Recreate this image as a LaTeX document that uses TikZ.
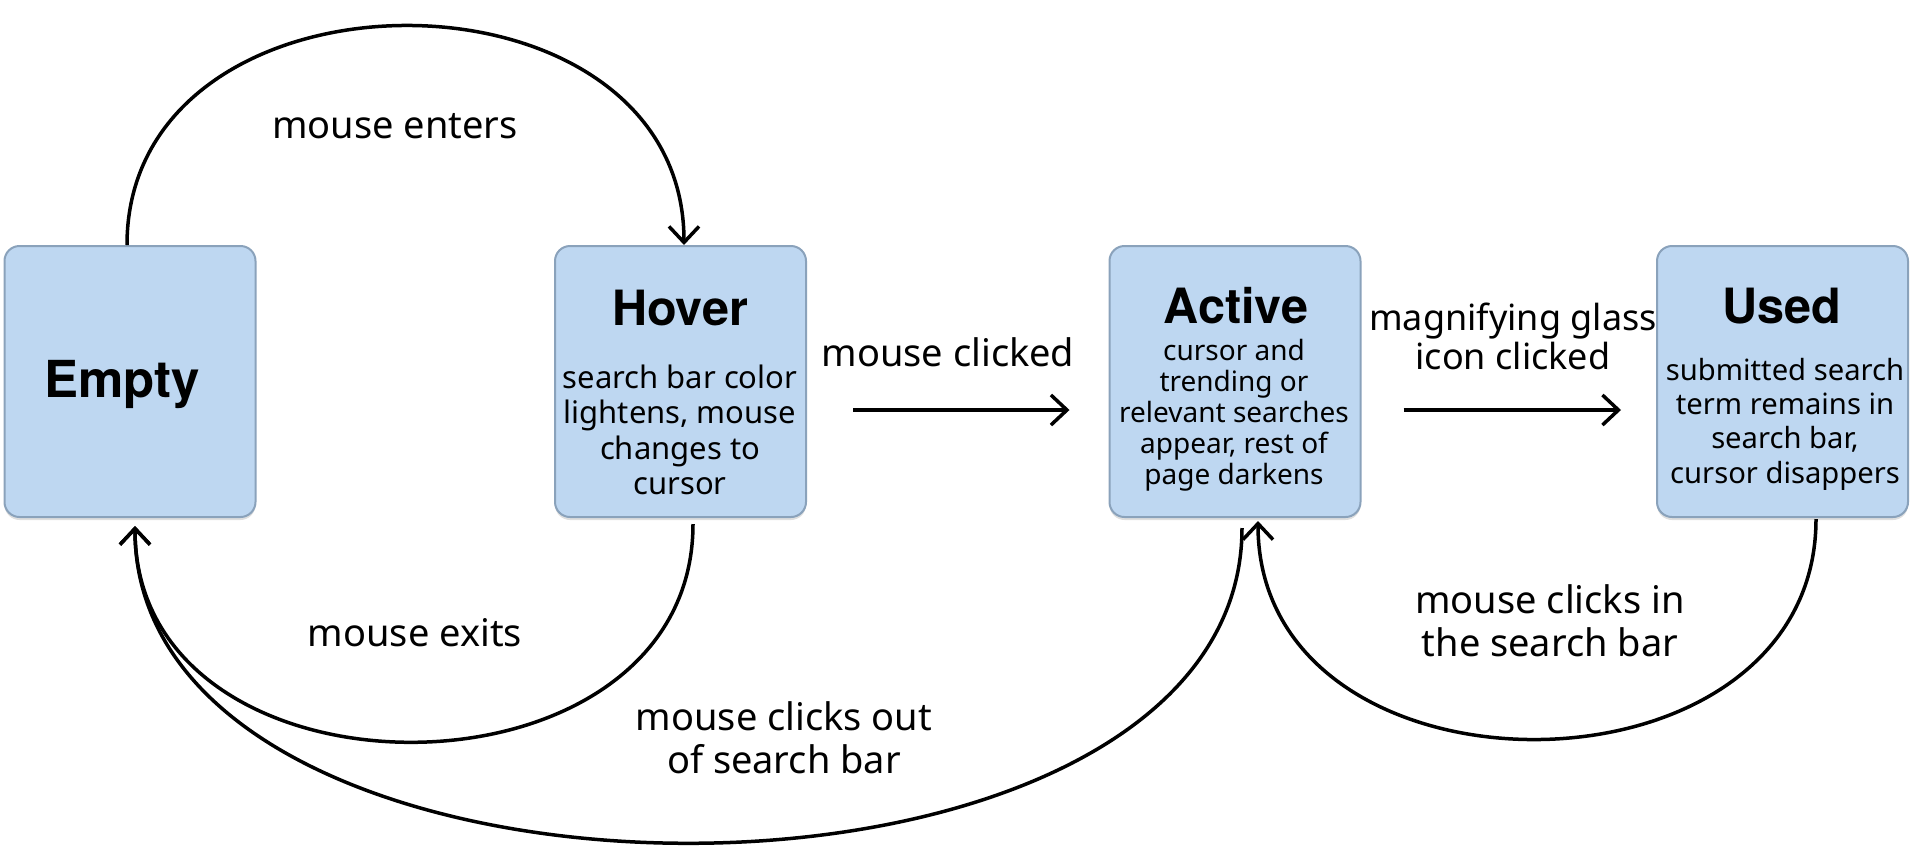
\documentclass[tikz,border=0pt]{standalone}
\usepackage{fontspec}
\setmainfont{Noto Sans}
\newfontfamily\titlefont{TeX Gyre Heros}
\usepackage{xcolor}
\usepackage{tikz}
\usetikzlibrary{calc,arrows.meta,shadows}
\definecolor{boxfill}{HTML}{BED7F1}
\definecolor{boxline}{HTML}{8AA2BB}
\definecolor{ink}{HTML}{000000}
\tikzset{
  sbox/.style={draw=boxline, line width=1pt, fill=boxfill, rounded corners=7.5pt,
    minimum width=125.5pt, minimum height=135.5pt, inner sep=0pt,
    drop shadow={opacity=0.25, shadow xshift=0pt, shadow yshift=-1.5pt}},
  title/.style={text=ink, anchor=base, font=\titlefont\bfseries\fontsize{24.3}{28}\selectfont},
  desc/.style={text=ink, align=center, font=\fontsize{15.5}{17.7}\selectfont},
  lab/.style={text=ink, align=center, font=\fontsize{19}{21.5}\selectfont},
  flow/.style={draw=ink, line width=1.75pt, -{Straight Barb[length=8pt,width=15pt]}}
}
\begin{document}
\begin{tikzpicture}[x=0.5pt, y=-0.5pt]
  \useasboundingbox (0,0) rectangle (1912,847);

  % The four states of the search bar
  \node[sbox] (empty)  at (130,381.5)  {};
  \node[sbox] (hover)  at (680.5,381.5) {};
  \node[sbox] (active) at (1235,381.5) {};
  \node[sbox] (used)   at (1782.5,381.5) {};

  \node[title, font=\titlefont\bfseries\fontsize{25.5}{30}\selectfont] (emptyT) at (122,397) {Empty};
  \node[title] (hoverT)  at (680,325)  {Hover};
  \node[title] (activeT) at (1236,323) {Active};
  \node[title] (usedT)   at (1782,323) {Used};

  \node[desc] (hoverD) at (680,430) {search bar color\\lightens, mouse\\changes to\\cursor};
  \node[desc, font=\fontsize{14}{15.5}\selectfont] (activeD) at (1234,415)
    {cursor and\\trending or\\relevant searches\\appear, rest of\\page darkens};
  \node[desc, font=\fontsize{14.6}{17.2}\selectfont] (usedD) at (1785,424)
    {submitted search\\term remains in\\search bar,\\cursor disappers};

  % Transitions
  \draw[flow] ($(empty.north)+(-3,0)$) .. controls +(0,-292) and +(0,-292) .. ($(hover.north)+(3.5,0)$);
  \draw[flow] ($(hover.east)+(46,28.5)$) -- ($(active.west)+(-39,28.5)$);
  \draw[flow] ($(active.east)+(42,28.5)$) -- ($(used.west)+(-35,28.5)$);
  \draw[flow] ($(hover.south)+(12.5,6)$) .. controls +(0,289) and +(0,289) .. ($(empty.south)+(5,8)$);
  \draw[flow] ($(active.south)+(7,10)$) .. controls +(0,421) and +(0,421) .. ($(empty.south)+(5,8)$);
  \draw[flow] ($(used.south)+(33.5,1)$) .. controls +(0,292) and +(0,292) .. ($(active.south)+(23,3)$);

  % Transition labels
  \node[lab] (enterL) at (395,126) {mouse enters};
  \node[lab] (clickL) at (948,352) {mouse clicked};
  \node[lab, font=\fontsize{18}{19.5}\selectfont] (glassL) at (1513,336) {magnifying glass\\icon clicked};
  \node[lab] (exitL) at (415,633) {mouse exits};
  \node[lab] (outL) at (784,738) {mouse clicks out\\of search bar};
  \node[lab] (inL) at (1550,621) {mouse clicks in\\the search bar};
\end{tikzpicture}
\end{document}
